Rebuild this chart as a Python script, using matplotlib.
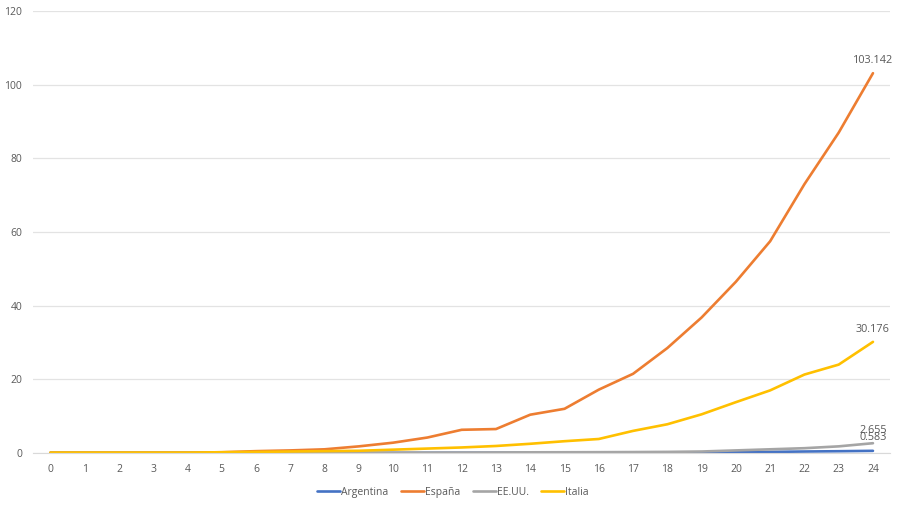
import matplotlib.pyplot as plt
import numpy as np

dias = list(range(25))

argentina = [0.02, 0.02, 0.02, 0.02, 0.02, 0.02, 0.02, 0.03, 0.03, 0.03, 0.04, 0.05,
             0.06, 0.07, 0.08, 0.09, 0.1, 0.12, 0.15, 0.18, 0.22, 0.3, 0.4, 0.48, 0.583]
espana = [0.1, 0.1, 0.1, 0.1, 0.1, 0.2, 0.5, 0.7, 1.0, 1.8, 2.8, 4.2,
          6.3, 6.5, 10.4, 12.0, 17.2, 21.5, 28.5, 36.8, 46.5, 57.5, 73.0, 87.0, 103.142]
eeuu = [0.02, 0.02, 0.02, 0.02, 0.02, 0.02, 0.03, 0.04, 0.05, 0.06, 0.08, 0.1,
        0.12, 0.15, 0.18, 0.2, 0.22, 0.25, 0.3, 0.4, 0.7, 1.0, 1.3, 1.8, 2.655]
italia = [0.1, 0.1, 0.1, 0.1, 0.1, 0.2, 0.3, 0.4, 0.5, 0.6, 0.9, 1.2,
          1.5, 1.9, 2.5, 3.2, 3.8, 6.0, 7.8, 10.5, 13.8, 17.0, 21.3, 24.0, 30.176]

series = [
    ("Argentina", argentina, "#4472C4"),
    ("España", espana, "#ED7D31"),
    ("EE.UU.", eeuu, "#A5A5A5"),
    ("Italia", italia, "#FFC000"),
]
etiquetas = {"España": "103.142", "Italia": "30.176", "EE.UU.": "2.655", "Argentina": "0.583"}

plt.rcParams['font.family'] = ['Open Sans', 'DejaVu Sans']

fig = plt.figure(figsize=(9, 5.05), dpi=100)
ax = fig.add_axes([0.037, 0.103, 0.952, 0.875])

for nombre, vals, color in series:
    ax.plot(dias, vals, color=color, linewidth=1.9, label=nombre, solid_capstyle="round")

# etiquetas de datos al final
offsets = {"España": 5, "Italia": 5, "EE.UU.": 5, "Argentina": 5.5}
for nombre, vals, color in series:
    ax.annotate(etiquetas[nombre], (dias[-1], vals[-1]), xytext=(0, offsets[nombre]),
                textcoords="offset points", ha="center", va="bottom",
                fontsize=7.8, color="#595959")

ax.set_xlim(-0.5, 24.5)
ax.set_ylim(0, 120)
ax.set_yticks(np.arange(0, 121, 20))
ax.set_xticks(dias)
ax.grid(axis="y", color="#E3E3E3", linewidth=0.9)
ax.set_axisbelow(True)
for s in ["top", "right", "left"]:
    ax.spines[s].set_visible(False)
ax.spines["bottom"].set_color("#D9D9D9")
ax.tick_params(axis="both", length=0, labelsize=7.5, labelcolor="#595959")
ax.tick_params(axis="x", pad=8)
ax.tick_params(axis="y", pad=8)

ax.legend(loc="upper center", bbox_to_anchor=(0.49, -0.055), ncol=4, frameon=False,
          fontsize=7.5, labelcolor="#595959", handlelength=2.2, handletextpad=0.1,
          columnspacing=1.2)

fig.savefig("out.png", dpi=100, facecolor="white")
